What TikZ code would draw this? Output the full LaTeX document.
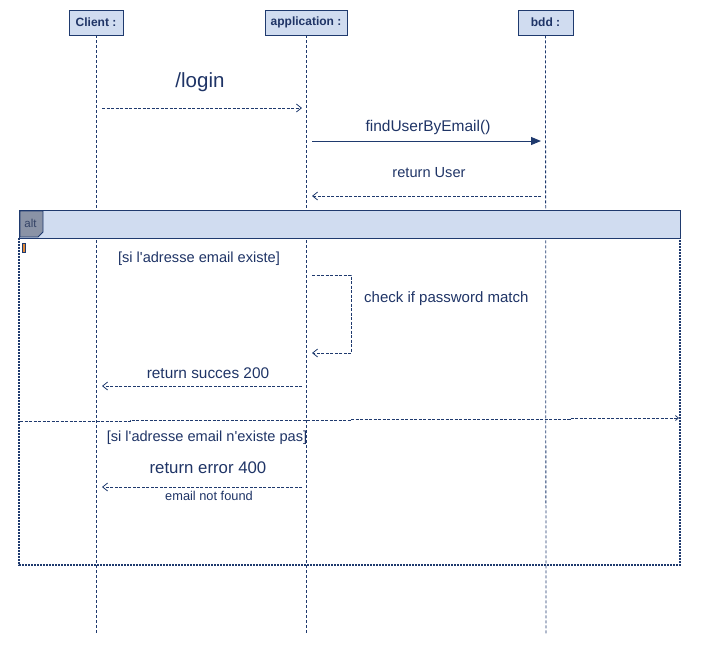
\documentclass[tikz,border=0pt]{standalone}
\usepackage{fontspec}
\setmainfont{Liberation Sans}[Ligatures=TeXOff]
\usetikzlibrary{arrows.meta}
\definecolor{dk}{HTML}{1F3A6E}
\definecolor{txt}{HTML}{1F3466}
\definecolor{boxfill}{HTML}{D0DCF0}
\definecolor{tabfill}{HTML}{8A93A6}
\definecolor{tabtxt}{HTML}{344366}
\definecolor{orng}{HTML}{E08A3A}
\begin{document}
\begin{tikzpicture}[x=1pt,y=-1pt,
  head/.style={draw=dk, line width=0.9pt, fill=boxfill, minimum height=25pt, inner sep=0pt, text=txt, font=\bfseries\fontsize{12}{14}\selectfont},
  life/.style={draw=dk, line width=0.8pt, dash pattern=on 3pt off 2pt},
  msg/.style={text=txt, inner sep=0pt, font=\fontsize{14.6}{17}\selectfont},
  small/.style={text=txt, inner sep=0pt, font=\fontsize{12.8}{14}\selectfont},
  big/.style={text=txt, inner sep=0pt, font=\fontsize{20.5}{23}\selectfont},
  ret/.style={draw=dk, line width=0.8pt, dash pattern=on 3pt off 1.5pt, -{Straight Barb[length=5pt,width=8pt]}},
  call/.style={draw=dk, line width=1pt, -{Triangle[length=10pt,width=8pt]}}
]
\useasboundingbox (0,0) rectangle (701,646);

% participants
\node[head, minimum width=54pt] (client) at (96,22.5) {Client :};
\node[head, minimum width=82pt] (app) at (306,22.5) {application :};
\node[head, minimum width=55pt] (bdd) at (545.5,22.5) {bdd :};

\coordinate (clientEnd) at (96,635);
\coordinate (appEnd) at (306,635);
\coordinate (bddEnd) at (546,635);
\draw[life] (client.south) -- (clientEnd);
\draw[life] (app.south) -- (appEnd);
\draw[life] (bdd.south) -- (bddEnd);

% alt frame
\draw[dk, line width=1.2pt, dash pattern=on 2pt off 1pt] (19,238) -- (19,565) -- (680,565) -- (680,238);
\node[draw=dk, line width=1pt, fill=boxfill, minimum width=661pt, minimum height=28pt, anchor=north west, inner sep=0pt] (altHead) at (19,210) {};
\draw[dk, line width=0.8pt, dash pattern=on 3pt off 1.5pt] (19,238) -- (680,238);
\draw[draw=dk, line width=0.8pt, fill=tabfill] (20,211) -- (43,211) -- (43,232) -- (38,237) -- (20,237) -- cycle;
\node[text=tabtxt, inner sep=0pt, font=\fontsize{11.5}{13}\selectfont] (altLabel) at (30.5,223) {alt};
\node[draw=dk, fill=orng, line width=0.6pt, minimum width=3.5pt, minimum height=9pt, inner sep=0pt] (guard) at (24,248) {};

% separator
\draw[dk, line width=0.8pt, dash pattern=on 3pt off 1.5pt, -{Straight Barb[length=3pt,width=5pt]}] (20,421) -- (130,421) -- (130,420) -- (350,420) -- (350,419) -- (570,419) -- (570,418) -- (679,418);

% /login
\coordinate (m1s) at (102,108);
\coordinate (m1e) at (302,108);
\draw[ret] (m1s) -- (m1e);
\node[big] (login) at (200,82) {/login};

% findUserByEmail
\coordinate (m2s) at (312,141);
\coordinate (m2e) at (541,141);
\draw[call] (m2s) -- (m2e);
\node[msg, font=\fontsize{15.5}{17}\selectfont] (find) at (428,127) {findUserByEmail()};

% return User
\coordinate (m3s) at (541,196);
\coordinate (m3e) at (312,196);
\draw[ret] (m3s) -- (m3e);
\node[msg] (retUser) at (429,173) {return User};

% guard 1
\node[msg] (g1) at (199,259) {[si l'adresse email existe]};

% self call
\coordinate (sc1) at (312,275);
\coordinate (sc2) at (351,275);
\coordinate (sc3) at (351,353);
\coordinate (sc4) at (312,353);
\draw[ret] (sc1) -- (sc2) -- (sc3) -- (sc4);
\node[msg, font=\fontsize{15}{17}\selectfont, anchor=west] (check) at (364,299) {check if password match};

% return succes
\coordinate (m4s) at (302,386);
\coordinate (m4e) at (102,386);
\draw[ret] (m4s) -- (m4e);
\node[msg, font=\fontsize{15.4}{17}\selectfont] (succ) at (208,373) {return succes 200};

% guard 2
\node[msg] (g2) at (207,438) {[si l'adresse email n'existe pas]};

% return error
\coordinate (m5s) at (302,487);
\coordinate (m5e) at (102,487);
\draw[ret] (m5s) -- (m5e);
\node[msg, font=\fontsize{16.8}{19}\selectfont] (err) at (208,468) {return error 400};
\node[small] (nf) at (209,496) {email not found};
\end{tikzpicture}
\end{document}
